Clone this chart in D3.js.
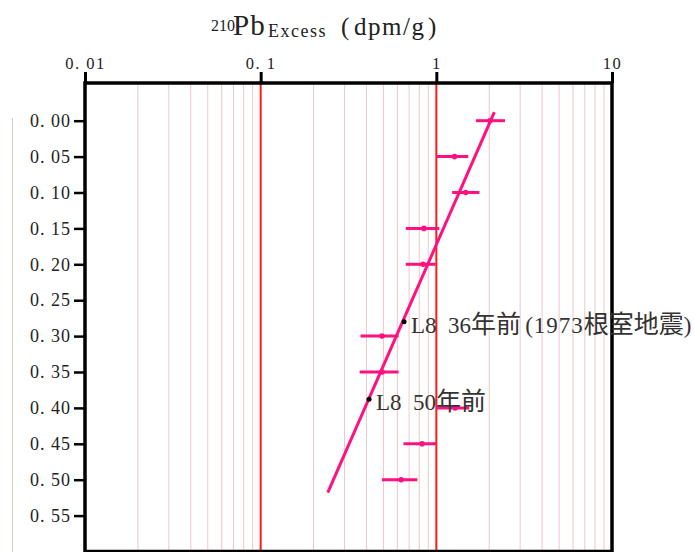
<!DOCTYPE html>
<html>
<head>
<meta charset="utf-8">
<script src="https://cdn.jsdelivr.net/npm/d3@7"></script>
<style>
  html, body { margin: 0; padding: 0; background: #fff; }
  svg { display: block; }
  text { font-family: "Liberation Serif", "DejaVu Serif", serif; }
</style>
</head>
<body>
<div id="chart"></div>
<script>
// depth (m) of each sample and its 210Pb excess with error range (dpm/g)
const depths = [0.00, 0.05, 0.10, 0.15, 0.20, 0.30, 0.35, 0.40, 0.45, 0.50];
const pbCenter = [2.02, 1.27, 1.47, 0.85, 0.84, 0.49, 0.49, 1.28, 0.83, 0.63];
const pbLow = [1.68, 1.00, 1.23, 0.67, 0.67, 0.37, 0.366, 1.00, 0.65, 0.49];
const pbHigh = [2.46, 1.52, 1.76, 1.04, 0.99, 0.61, 0.61, 1.54, 1.00, 0.78];

// regression line ends
const fitPb = [2.14, 0.241];
const fitDepth = [-0.012, 0.518];

// annotated layers
const noteLabels = ['L8  36年前(1973根室地震)', 'L8  50年前'];
const notePb = [0.655, 0.414];
const noteDepth = [0.280, 0.388];

const xTicks = [0.01, 0.1, 1, 10];
const xTickLabels = ['0. 01', '0. 1', '1', '10'];
const yTicks = [0, 0.05, 0.10, 0.15, 0.20, 0.25, 0.30, 0.35, 0.40, 0.45, 0.50, 0.55];

const width = 694, height = 552;
const plotLeft = 85, plotRight = 612, plotTop = 83, plotBottom = 551.5;
const pink = '#ff1280';
const serif = '"Liberation Serif", "DejaVu Serif", serif';
const cjk = '"Noto Sans CJK JP", "Noto Sans CJK SC", sans-serif';

const svg = d3.select('#chart').append('svg')
  .attr('width', width)
  .attr('height', height);

const x = d3.scaleLog().domain([0.01, 10]).range([plotLeft, plotRight]);
const y = d3.scaleLinear().domain([-0.0525, 0.6]).range([plotTop, plotBottom]);

// faint line at the far left
svg.append('line')
  .attr('x1', 12.5).attr('x2', 12.5)
  .attr('y1', 118).attr('y2', height)
  .attr('stroke', '#d8cfc4')
  .attr('stroke-width', 1);

// minor grid (2..9 of each decade)
const minor = [];
[0.01, 0.1, 1].forEach(d => {
  for (let k = 2; k <= 9; k++) minor.push(d * k);
});
svg.append('g').selectAll('line')
  .data(minor)
  .enter().append('line')
  .attr('x1', d => x(d)).attr('x2', d => x(d))
  .attr('y1', plotTop).attr('y2', plotBottom)
  .attr('stroke', '#f1c6c6')
  .attr('stroke-width', 1);

// red lines at 0.1 and 1
svg.append('g').selectAll('line')
  .data([0.1, 1])
  .enter().append('line')
  .attr('x1', d => x(d)).attr('x2', d => x(d))
  .attr('y1', plotTop).attr('y2', plotBottom)
  .attr('stroke', '#ff1a1a')
  .attr('stroke-width', 2);

// frame
svg.append('rect')
  .attr('x', plotLeft).attr('y', plotTop)
  .attr('width', plotRight - plotLeft).attr('height', plotBottom - plotTop)
  .attr('fill', 'none')
  .attr('stroke', '#000')
  .attr('stroke-width', 3.5);

// top axis
const xAxis = d3.axisTop(x)
  .tickValues(xTicks)
  .tickSize(11)
  .tickPadding(3)
  .tickFormat((d, i) => xTickLabels[i]);
const gx = svg.append('g')
  .attr('transform', 'translate(0,' + plotTop + ')')
  .call(xAxis);
gx.select('.domain').remove();
gx.selectAll('.tick line').attr('stroke', '#000').attr('stroke-width', 3);
gx.selectAll('.tick text')
  .attr('fill', '#222')
  .style('font-size', '16.5px')
  .style('letter-spacing', '1.5px')
  .style('white-space', 'pre')
  .style('font-family', serif);

// left axis
const yAxis = d3.axisLeft(y)
  .tickValues(yTicks)
  .tickSize(11)
  .tickPadding(3)
  .tickFormat(d => d3.format('.2f')(d).replace('.', '. '));
const gy = svg.append('g')
  .attr('transform', 'translate(' + plotLeft + ',0)')
  .call(yAxis);
gy.select('.domain').remove();
gy.selectAll('.tick line').attr('stroke', '#000').attr('stroke-width', 2.5);
gy.selectAll('.tick text')
  .attr('fill', '#222')
  .style('font-size', '18px')
  .style('letter-spacing', '1px')
  .style('white-space', 'pre')
  .style('font-family', serif);

// title
const title = svg.append('text')
  .attr('fill', '#222')
  .style('font-family', serif);
title.append('tspan').attr('x', 211).attr('y', 31).style('font-size', '16px').text('210');
title.append('tspan').attr('x', 233).attr('y', 35).style('font-size', '29px')
  .style('letter-spacing', '1px').text('Pb');
title.append('tspan').attr('x', 268).attr('y', 37).style('font-size', '18px')
  .style('letter-spacing', '1.5px').text('Excess');
title.append('tspan').attr('x', 341).attr('y', 35).style('font-size', '25px').text('(');
title.append('tspan').attr('x', 354).attr('y', 35).style('font-size', '25px')
  .style('letter-spacing', '1.5px').text('dpm/g');
title.append('tspan').attr('x', 428).attr('y', 35).style('font-size', '25px').text(')');

// error bars
const bars = svg.append('g');
bars.selectAll('line')
  .data(depths)
  .enter().append('line')
  .attr('x1', (d, i) => x(pbLow[i]))
  .attr('x2', (d, i) => x(pbHigh[i]))
  .attr('y1', d => y(d)).attr('y2', d => y(d))
  .attr('stroke', pink)
  .attr('stroke-width', 3);
bars.selectAll('circle')
  .data(depths)
  .enter().append('circle')
  .attr('cx', (d, i) => x(pbCenter[i]))
  .attr('cy', d => y(d))
  .attr('r', 2.8)
  .attr('fill', pink);

// regression line
svg.append('line')
  .attr('x1', x(fitPb[0])).attr('y1', y(fitDepth[0]))
  .attr('x2', x(fitPb[1])).attr('y2', y(fitDepth[1]))
  .attr('stroke', pink)
  .attr('stroke-width', 3);

// annotations: split each label into CJK and latin runs so each gets its own font
const notes = svg.append('g');
notes.selectAll('circle')
  .data(noteLabels)
  .enter().append('circle')
  .attr('cx', (d, i) => x(notePb[i]))
  .attr('cy', (d, i) => y(noteDepth[i]))
  .attr('r', 2.5)
  .attr('fill', '#000');
const isCjk = /[\u3000-\u9fff\uff00-\uffef]/;
notes.selectAll('text')
  .data(noteLabels)
  .enter().append('text')
  .attr('x', (d, i) => x(notePb[i]) + 7)
  .attr('y', (d, i) => y(noteDepth[i]) + 11)
  .attr('fill', '#333')
  .style('white-space', 'pre')
  .each(function(d) {
    const runs = d.match(/[\u3000-\u9fff\uff00-\uffef]+|[^\u3000-\u9fff\uff00-\uffef]+/g);
    const t = d3.select(this);
    runs.forEach(r => {
      const s = t.append('tspan').text(r);
      if (isCjk.test(r)) {
        s.style('font-family', cjk).style('font-size', '25px');
      } else {
        s.style('font-family', serif).style('font-size', '23px');
        if (r[0] === '(') s.attr('dx', 4).style('letter-spacing', '1px');
      }
    });
  });
</script>
</body>
</html>
